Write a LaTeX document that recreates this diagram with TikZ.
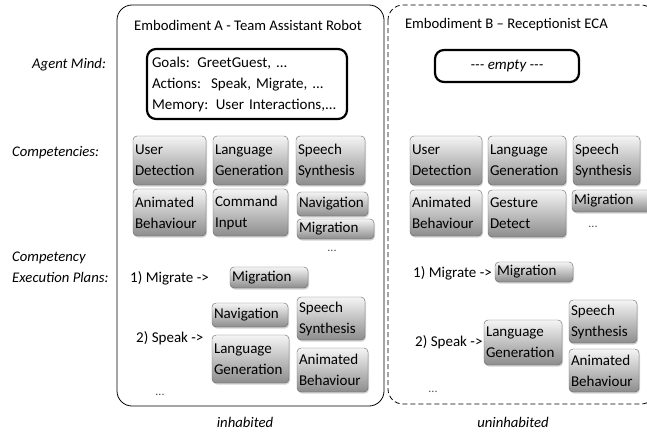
\documentclass[tikz,border=0pt]{standalone}
\usepackage{fontspec}
\setmainfont{Carlito}
\usetikzlibrary{shadows}
\begin{document}
\begin{tikzpicture}[x=1pt, y=-1pt,
		comp/.style={draw=black!60, rounded corners=4pt, top color=black!4, bottom color=black!45,
			drop shadow={shadow xshift=1pt, shadow yshift=-1.5pt, opacity=0.35},
			align=left, inner xsep=2pt, inner ysep=0pt},
		mind/.style={draw, line width=2.2pt, rounded corners=9pt},
		side/.style={font=\fontsize{14.7}{20}\selectfont\itshape},
		more/.style={font=\fontsize{12}{14}\selectfont, text=black!70}]
	\tikzstyle{every node}=[font=\fontsize{15}{21}\selectfont]
	\useasboundingbox (0,0) rectangle (647,431);
	% embodiments
	\draw [line width=0.8pt, rounded corners=15pt] (117,5) rectangle (384,406);
	\draw [line width=0.8pt, dash pattern=on 5pt off 3pt, rounded corners=15pt] (388,5) rectangle (656,404);
	\node [font=\fontsize{14.7}{20}\selectfont] (titleA) at (248,25) {Embodiment A - Team Assistant Robot};
	\node [font=\fontsize{14.7}{20}\selectfont, anchor=west] (titleB) at (401.5,25) {Embodiment B -- Receptionist ECA};
	% row labels
	\node [side, anchor=east] (lblMind) at (109.5,65) {Agent Mind:};
	\node [side, anchor=west] (lblComp) at (8.7,153) {Competencies:};
	\node [side, anchor=west] (lblPlan1) at (8.7,258) {Competency};
	\node [side, anchor=west] (lblPlan2) at (8.7,277) {Execution Plans:};
	% agent minds
	\node [mind, minimum width=200, minimum height=70, text width=190, align=left] (mindA) at (247,84)
		{Goals: GreetGuest, ...\\Actions:\ \ Speak, Migrate, ...\\Memory: User Interactions,...};
	\node [mind, minimum width=144, minimum height=32] (mindB) at (507,66) {\itshape -{}-{}- empty -{}-{}-};
	% competencies A
	\node [comp, text width=69, minimum height=49] (aUser) at (169.5,160.5) {User\\Detection};
	\node [comp, text width=71, minimum height=49] (aLang) at (250.5,160.5) {Language\\Generation};
	\node [comp, text width=65, minimum height=49] (aSpeech) at (330.5,160.5) {Speech\\Synthesis};
	\node [comp, text width=69, minimum height=47] (aAnim) at (169.5,212.5) {Animated\\Behaviour};
	\node [comp, text width=71, minimum height=47] (aCmd) at (250.5,212.5) {Command\\Input};
	\node [comp, text width=67, minimum height=24] (aNav) at (332.5,204) {Navigation};
	\node [comp, text width=73, minimum height=20] (aMig) at (335.5,229) {Migration};
	\node [more] (aMore) at (332,251) {...};
	% competencies B
	\node [comp, text width=68, minimum height=49] (bUser) at (446,160.5) {User\\Detection};
	\node [comp, text width=74, minimum height=49] (bLang) at (527,160.5) {Language\\Generation};
	\node [comp, text width=63, minimum height=49] (bSpeech) at (606.5,160.5) {Speech\\Synthesis};
	\node [comp, text width=68, minimum height=46] (bAnim) at (446,213) {Animated\\Behaviour};
	\node [comp, text width=74, minimum height=47] (bGest) at (527,213.5) {Gesture\\Detect};
	\node [comp, text width=84, minimum height=22] (bMig) at (616,201) {Migration};
	\node [more] (bMore) at (593,227) {...};
	% execution plans A
	\node [anchor=west] (aPlanMig) at (126.7,278) {1) Migrate ->};
	\node [comp, text width=74, minimum height=21] (aPMig) at (269,277.5) {Migration};
	\node [anchor=west] (aPlanSpeak) at (132.7,338) {2) Speak ->};
	\node [comp, text width=72, minimum height=24] (aPNav) at (250,315) {Navigation};
	\node [comp, text width=73, minimum height=48] (aPLang) at (250.5,359) {Language\\Generation};
	\node [comp, text width=64, minimum height=43] (aPSpeech) at (331,318.5) {Speech\\Synthesis};
	\node [comp, text width=67, minimum height=44] (aPAnim) at (332.5,370) {Animated\\Behaviour};
	\node [more] (aPMore) at (160,395) {...};
	% execution plans B
	\node [anchor=west] (bPlanMig) at (409.7,273) {1) Migrate ->};
	\node [comp, text width=74, minimum height=20] (bPMig) at (534,272) {Migration};
	\node [anchor=west] (bPlanSpeak) at (411.7,342) {2) Speak ->};
	\node [comp, text width=74, minimum height=45] (bPLang) at (523,342.5) {Language\\Generation};
	\node [comp, text width=64, minimum height=43] (bPSpeech) at (603,321.5) {Speech\\Synthesis};
	\node [comp, text width=66, minimum height=43] (bPAnim) at (604,370.5) {Animated\\Behaviour};
	\node [more] (bPMore) at (433,392) {...};
	% captions
	\node [side] (capA) at (245,422) {inhabited};
	\node [side] (capB) at (513,422) {uninhabited};
\end{tikzpicture}
\end{document}
